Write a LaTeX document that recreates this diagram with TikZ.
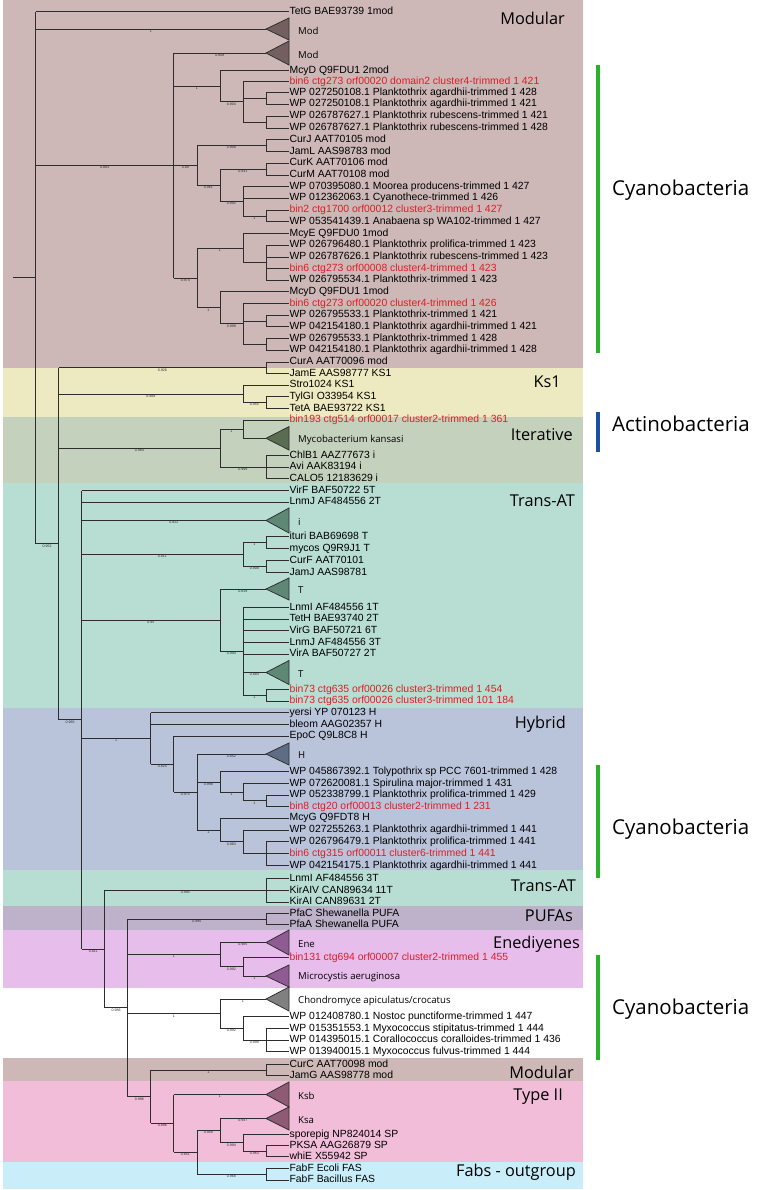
\documentclass[tikz,border=0pt]{standalone}
\usepackage{fontspec}
\setmainfont{Liberation Sans}
\newfontfamily\osans{Open Sans}
\usetikzlibrary{calc}
\definecolor{cMod}{RGB}{205,183,183}
\definecolor{cKs}{RGB}{237,233,192}
\definecolor{cIt}{RGB}{196,209,189}
\definecolor{cTr}{RGB}{184,221,210}
\definecolor{cHy}{RGB}{185,196,219}
\definecolor{cPu}{RGB}{189,178,201}
\definecolor{cEn}{RGB}{231,189,236}
\definecolor{cTy}{RGB}{242,189,217}
\definecolor{cFa}{RGB}{201,238,249}
\definecolor{cRed}{RGB}{226,28,36}
\definecolor{cGreen}{RGB}{40,178,40}
\definecolor{cBlue}{RGB}{30,80,160}
\definecolor{cLine}{RGB}{45,45,45}
\definecolor{tMod}{RGB}{115,95,95}
\definecolor{tIt}{RGB}{90,108,82}
\definecolor{tTr}{RGB}{94,135,118}
\definecolor{tHy}{RGB}{94,108,132}
\definecolor{tEn}{RGB}{142,92,146}
\definecolor{tGr}{RGB}{128,128,128}
\definecolor{tTy}{RGB}{143,90,116}
\tikzset{
 brn/.style={draw=cLine, line width=0.75pt},
 leaf/.style={anchor=west, inner sep=0.6pt, outer sep=0pt, font=\fontsize{10.4}{12}\selectfont, text height=7.4pt, text depth=2pt},
 blab/.style={anchor=north, inner sep=0.2pt, yshift=-0.3pt, font=\fontsize{3.6}{4}\selectfont, text=cLine},
 trilab/.style={anchor=west, inner sep=0pt, font=\osans\fontsize{9.6}{11}\selectfont},
 reglab/.style={anchor=base east, inner sep=0pt, font=\osans\fontsize{16.3}{18}\selectfont},
 sidelab/.style={anchor=base west, inner sep=0pt, font=\osans\fontsize{20.5}{22}\selectfont},
}
\newcommand\lfb[3]{\node[leaf] (#1) at (289,-#2) {#3};}
\newcommand\lfr[3]{\node[leaf,text=cRed] (#1) at (289,-#2) {#3};}
\newcommand\tritip[5]{\coordinate (#1) at (266,-#2);
  \draw[brn,fill=#4] (#1) -- ++(23,#3) -- ++(0,-2*#3) -- cycle;
  \node[trilab] (#1l) at (298,-#2-1.5) {#5};}
\newcommand\tclade[4]{\path let \p1=(#3), \p2=(#4) in coordinate (#1) at ({35.6+23.04*#2},{(\y1+\y2)/2});
  \draw[brn] (#1|-#3) -- (#1|-#4);}
\newcommand\brl[3]{\draw[brn] (#1|-#2) -- node[blab]{#3} (#2);}
\newcommand\bnl[2]{\draw[brn] (#1|-#2) -- (#2);}
\begin{document}
\begin{tikzpicture}[x=1pt,y=1pt]
\useasboundingbox (0,0) rectangle (759,-1190);
\fill[white] (0,0) rectangle (759,-1190);
% backgrounds
\fill[cMod] (3,0) rectangle (583,-368);
\fill[cKs] (3,-368) rectangle (583,-417);
\fill[cIt] (3,-417) rectangle (583,-483);
\fill[cTr] (3,-483) rectangle (583,-707.7);
\fill[cHy] (3,-707.7) rectangle (583,-870);
\fill[cTr] (3,-870) rectangle (583,-905.7);
\fill[cPu] (3,-905.7) rectangle (583,-930);
\fill[cEn] (3,-930) rectangle (583,-987.7);
\fill[cMod] (3,-1057.7) rectangle (583,-1081);
\fill[cTy] (3,-1081) rectangle (583,-1161.7);
\fill[cFa] (3,-1161.7) rectangle (583,-1189);
% region labels
\node[reglab] (rg1) at (565,-25) {Modular};
\node[reglab] (rg2) at (561,-387.5) {Ks1};
\node[reglab] (rg3) at (573,-440) {Iterative};
\node[reglab] (rg4) at (575,-506.5) {Trans-AT};
\node[reglab] (rg5) at (566,-728.3) {Hybrid};
\node[reglab] (rg6) at (576,-891.5) {Trans-AT};
\node[reglab] (rg7) at (573,-921.7) {PUFAs};
\node[reglab] (rg8) at (580,-948.3) {Enediyenes};
\node[reglab] (rg9) at (574,-1078) {Modular};
\node[reglab] (rg10) at (563,-1100) {Type II};
\node[reglab] (rg11) at (576,-1176.6) {Fabs - outgroup};
% side bars
\fill[cGreen] (596,-65) rectangle (600,-353);
\fill[cBlue] (596,-412) rectangle (600,-452);
\fill[cGreen] (596,-765) rectangle (600,-878);
\fill[cGreen] (596,-955) rectangle (600,-1060);
\node[sidelab] (sd1) at (612,-196) {Cyanobacteria};
\node[sidelab] (sd2) at (612,-431.3) {Actinobacteria};
\node[sidelab] (sd3) at (612,-834) {Cyanobacteria};
\node[sidelab] (sd4) at (612,-1014.3) {Cyanobacteria};
% leaves
\lfb{tetg}{11.7}{TetG BAE93739 1mod}
\tritip{mod1}{29}{11}{tMod}{Mod}
\tritip{mod2}{53}{12}{tMod}{Mod}
\lfb{mcyd2}{70.7}{McyD Q9FDU1 2mod}
\lfr{bin6d}{81.5}{bin6 ctg273 orf00020 domain2 cluster4-trimmed 1 421}
\lfb{wpa1}{92.8}{WP 027250108.1 Planktothrix agardhii-trimmed 1 428}
\lfb{wpa2}{104.3}{WP 027250108.1 Planktothrix agardhii-trimmed 1 421}
\lfb{wpr1}{116.2}{WP 026787627.1 Planktothrix rubescens-trimmed 1 421}
\lfb{wpr2}{128}{WP 026787627.1 Planktothrix rubescens-trimmed 1 428}
\lfb{curj}{139.7}{CurJ AAT70105 mod}
\lfb{jaml}{151.4}{JamL AAS98783 mod}
\lfb{curk}{163.2}{CurK AAT70106 mod}
\lfb{curm}{175}{CurM AAT70108 mod}
\lfb{moor}{186.6}{WP 070395080.1 Moorea producens-trimmed 1 427}
\lfb{cyth}{198.3}{WP 012362063.1 Cyanothece-trimmed 1 426}
\lfr{bin2}{210}{bin2 ctg1700 orf00012 cluster3-trimmed 1 427}
\lfb{anab}{221.8}{WP 053541439.1 Anabaena sp WA102-trimmed 1 427}
\lfb{mcye}{233.5}{McyE Q9FDU0 1mod}
\lfb{wpp1}{245.2}{WP 026796480.1 Planktothrix prolifica-trimmed 1 423}
\lfb{wpr3}{256.9}{WP 026787626.1 Planktothrix rubescens-trimmed 1 423}
\lfr{bin6e}{268.6}{bin6 ctg273 orf00008 cluster4-trimmed 1 423}
\lfb{wpt1}{280.2}{WP 026795534.1 Planktothrix-trimmed 1 423}
\lfb{mcyd1}{291.8}{McyD Q9FDU1 1mod}
\lfr{bin6f}{303.3}{bin6 ctg273 orf00020 cluster4-trimmed 1 426}
\lfb{wpt2}{315}{WP 026795533.1 Planktothrix-trimmed 1 421}
\lfb{wpa3}{326.8}{WP 042154180.1 Planktothrix agardhii-trimmed 1 421}
\lfb{wpt3}{338.5}{WP 026795533.1 Planktothrix-trimmed 1 428}
\lfb{wpa4}{350.2}{WP 042154180.1 Planktothrix agardhii-trimmed 1 428}
\lfb{cura}{362}{CurA AAT70096 mod}
\lfb{jame}{373.5}{JamE AAS98777 KS1}
\lfb{stro}{385.2}{Stro1024 KS1}
\lfb{tylg}{396.8}{TylGI O33954 KS1}
\lfb{teta}{408.4}{TetA BAE93722 KS1}
\lfr{bin193}{420}{bin193 ctg514 orf00017 cluster2-trimmed 1 361}
\tritip{myco}{438.3}{11.7}{tIt}{Mycobacterium kansasi}
\lfb{chlb}{455.3}{ChlB1 AAZ77673 i}
\lfb{avi}{467}{Avi AAK83194 i}
\lfb{calo}{478.6}{CALO5 12183629 i}
\lfb{virf}{490.5}{VirF BAF50722 5T}
\lfb{lnmj2}{502.2}{LnmJ AF484556 2T}
\tritip{trii}{520.5}{12.5}{tTr}{i}
\lfb{ituri}{536.8}{ituri BAB69698 T}
\lfb{mycos}{548.4}{mycos Q9R9J1 T}
\lfb{curf}{560.6}{CurF AAT70101}
\lfb{jamj}{572.4}{JamJ AAS98781}
\tritip{trit1}{589}{11}{tTr}{T}
\lfb{lnmi1}{607.3}{LnmI AF484556 1T}
\lfb{teth}{619.2}{TetH BAE93740 2T}
\lfb{virg}{630.8}{VirG BAF50721 6T}
\lfb{lnmj3}{642.4}{LnmJ AF484556 3T}
\lfb{vira}{654}{VirA BAF50727 2T}
\tritip{trit2}{672.5}{12}{tTr}{T}
\lfr{bin73a}{689.5}{bin73 ctg635 orf00026 cluster3-trimmed 1 454}
\lfr{bin73b}{701.2}{bin73 ctg635 orf00026 cluster3-trimmed 101 184}
\lfb{yersi}{712.8}{yersi YP 070123 H}
\lfb{bleom}{724.4}{bleom AAG02357 H}
\lfb{epoc}{736}{EpoC Q9L8C8 H}
\tritip{trih}{754}{11}{tHy}{H}
\lfb{toly}{771.7}{WP 045867392.1 Tolypothrix sp PCC 7601-trimmed 1 428}
\lfb{spir}{783.3}{WP 072620081.1 Spirulina major-trimmed 1 431}
\lfb{wpp2}{795}{WP 052338799.1 Planktothrix prolifica-trimmed 1 429}
\lfr{bin8}{806.6}{bin8 ctg20 orf00013 cluster2-trimmed 1 231}
\lfb{mcyg}{818.2}{McyG Q9FDT8 H}
\lfb{wpa5}{829.9}{WP 027255263.1 Planktothrix agardhii-trimmed 1 441}
\lfb{wpp3}{841.5}{WP 026796479.1 Planktothrix prolifica-trimmed 1 441}
\lfr{bin6g}{853.3}{bin6 ctg315 orf00011 cluster6-trimmed 1 441}
\lfb{wpa6}{865.5}{WP 042154175.1 Planktothrix agardhii-trimmed 1 441}
\lfb{lnmi3}{878.5}{LnmI AF484556 3T}
\lfb{kir4}{890.4}{KirAIV CAN89634 11T}
\lfb{kir1}{902}{KirAI CAN89631 2T}
\lfb{pfac}{913.4}{PfaC Shewanella PUFA}
\lfb{pfaa}{924.5}{PfaA Shewanella PUFA}
\tritip{ene}{942.5}{12.5}{tEn}{Ene}
\lfr{bin131}{957.5}{bin131 ctg694 orf00007 cluster2-trimmed 1 455}
\tritip{micro}{976}{11}{tEn}{Microcystis aeruginosa}
\tritip{chon}{999}{12}{tGr}{Chondromyce apiculatus/crocatus}
\lfb{nost}{1016.7}{WP 012408780.1 Nostoc punctiforme-trimmed 1 447}
\lfb{myx1}{1028.3}{WP 015351553.1 Myxococcus stipitatus-trimmed 1 444}
\lfb{cora}{1040}{WP 014395015.1 Corallococcus coralloides-trimmed 1 436}
\lfb{myx2}{1051.6}{WP 013940015.1 Myxococcus fulvus-trimmed 1 444}
\lfb{curc}{1064.6}{CurC AAT70098 mod}
\lfb{jamg}{1075.6}{JamG AAS98778 mod}
\tritip{ksb}{1094.5}{12.5}{tTy}{Ksb}
\tritip{ksa}{1118.5}{11.5}{tTy}{Ksa}
\lfb{spor}{1134.3}{sporepig NP824014 SP}
\lfb{pksa}{1145.5}{PKSA AAG26879 SP}
\lfb{whie}{1156.6}{whiE X55942 SP}
\lfb{fabe}{1168.3}{FabF Ecoli FAS}
\lfb{fabb}{1180}{FabF Bacillus FAS}
% clades: Modular
\tclade{a1a1}{10}{wpa1}{wpa2}\bnl{a1a1}{wpa1}\bnl{a1a1}{wpa2}
\tclade{a1a2}{10}{wpr1}{wpr2}\bnl{a1a2}{wpr1}\bnl{a1a2}{wpr2}
\tclade{a1a}{9}{bin6d}{a1a2}\bnl{a1a}{bin6d}\bnl{a1a}{a1a1}\bnl{a1a}{a1a2}
\tclade{a1}{8}{mcyd2}{a1a}\bnl{a1}{mcyd2}\brl{a1}{a1a}{0.904}
\tclade{a2a}{10}{curj}{jaml}\bnl{a2a}{curj}\bnl{a2a}{jaml}
\tclade{a2b1}{10}{curk}{curm}\bnl{a2b1}{curk}\bnl{a2b1}{curm}
\tclade{a2b2c}{10}{bin2}{anab}\bnl{a2b2c}{bin2}\bnl{a2b2c}{anab}
\tclade{a2b2}{9}{moor}{a2b2c}\bnl{a2b2}{moor}\bnl{a2b2}{cyth}\brl{a2b2}{a2b2c}{1}
\tclade{a2b}{8}{a2b1}{a2b2}\brl{a2b}{a2b1}{0.931}\brl{a2b}{a2b2}{0.992}
\tclade{a2}{7}{a2a}{a2b}\brl{a2}{a2a}{0.908}\brl{a2}{a2b}{0.961}
\tclade{a3a1}{10}{wpp1}{wpt1}\bnl{a3a1}{wpp1}\bnl{a3a1}{wpr3}\bnl{a3a1}{bin6e}\bnl{a3a1}{wpt1}
\tclade{a3a}{9}{mcye}{a3a1}\bnl{a3a}{mcye}\bnl{a3a}{a3a1}
\tclade{a3b1a}{10}{wpt2}{wpa3}\bnl{a3b1a}{wpt2}\bnl{a3b1a}{wpa3}
\tclade{a3b1b}{10}{wpt3}{wpa4}\bnl{a3b1b}{wpt3}\bnl{a3b1b}{wpa4}
\tclade{a3b1}{9}{bin6f}{a3b1b}\bnl{a3b1}{bin6f}\bnl{a3b1}{a3b1a}\bnl{a3b1}{a3b1b}
\tclade{a3b}{8}{mcyd1}{a3b1}\bnl{a3b}{mcyd1}\brl{a3b}{a3b1}{0.999}
\tclade{a3}{7}{a3a}{a3b}\brl{a3}{a3a}{1}\brl{a3}{a3b}{1}
\tclade{aa}{6}{mod2}{a3}\brl{aa}{mod2}{0.808}\brl{aa}{a1}{1}\brl{aa}{a2}{0.89}\brl{aa}{a3}{0.974}
% Ks1 / Iterative
\tclade{b1}{10}{cura}{jame}\bnl{b1}{cura}\bnl{b1}{jame}
\tclade{b2a}{10}{tylg}{teta}\bnl{b2a}{tylg}\bnl{b2a}{teta}
\tclade{b2}{9}{stro}{b2a}\bnl{b2}{stro}\brl{b2}{b2a}{0.955}
\tclade{b3a}{9}{bin193}{myco}\bnl{b3a}{bin193}\bnl{b3a}{myco}
\tclade{b3b}{10}{chlb}{calo}\bnl{b3b}{chlb}\bnl{b3b}{avi}\bnl{b3b}{calo}
\tclade{b3}{8}{b3a}{b3b}\brl{b3}{b3a}{1}\brl{b3}{b3b}{0.999}
% Trans-AT
\tclade{c1a}{10}{ituri}{mycos}\bnl{c1a}{ituri}\bnl{c1a}{mycos}
\tclade{c1b}{10}{curf}{jamj}\bnl{c1b}{curf}\bnl{c1b}{jamj}
\tclade{c1}{9}{c1a}{c1b}\brl{c1}{c1a}{1}\brl{c1}{c1b}{0.908}
\tclade{c2c}{10}{bin73a}{bin73b}\bnl{c2c}{bin73a}\bnl{c2c}{bin73b}
\tclade{c2b}{9}{lnmi1}{c2c}\bnl{c2b}{lnmi1}\bnl{c2b}{teth}\bnl{c2b}{virg}\bnl{c2b}{lnmj3}\bnl{c2b}{vira}\brl{c2b}{trit2}{0.884}\brl{c2b}{c2c}{1}
\tclade{c2}{8}{trit1}{c2b}\brl{c2}{trit1}{0.839}\brl{c2}{c2b}{0.994}
% Hybrid
\tclade{c3c2}{10}{wpp2}{bin8}\bnl{c3c2}{wpp2}\bnl{c3c2}{bin8}
\tclade{c3c1}{9}{spir}{c3c2}\bnl{c3c1}{spir}\brl{c3c1}{c3c2}{1}
\tclade{c3c}{8}{toly}{c3c1}\bnl{c3c}{toly}\brl{c3c}{c3c1}{1}
\tclade{c3d1a}{10}{wpp3}{wpa6}\bnl{c3d1a}{wpp3}\bnl{c3d1a}{bin6g}\bnl{c3d1a}{wpa6}
\tclade{c3d1}{9}{wpa5}{c3d1a}\bnl{c3d1}{wpa5}\bnl{c3d1}{c3d1a}
\tclade{c3d}{8}{mcyg}{c3d1}\bnl{c3d}{mcyg}\brl{c3d}{c3d1}{0.983}
\tclade{c3b}{7}{trih}{c3d}\brl{c3b}{trih}{0.852}\brl{c3b}{c3c}{0.998}\brl{c3b}{c3d}{1}
\tclade{c3a}{6}{epoc}{c3b}\bnl{c3a}{epoc}\brl{c3a}{c3b}{0.975}
\tclade{c3}{5}{yersi}{c3a}\bnl{c3}{yersi}\bnl{c3}{bleom}\brl{c3}{c3a}{0.825}
% lower part
\tclade{c4a}{10}{lnmi3}{kir1}\bnl{c4a}{lnmi3}\bnl{c4a}{kir4}\bnl{c4a}{kir1}
\tclade{pp}{10}{pfac}{pfaa}\bnl{pp}{pfac}\bnl{pp}{pfaa}
\tclade{e2}{9}{bin131}{micro}\bnl{e2}{bin131}\brl{e2}{micro}{1}
\tclade{ee}{8}{ene}{e2}\brl{ee}{ene}{0.985}\brl{ee}{e2}{0.992}
\tclade{ch3}{10}{myx1}{myx2}\bnl{ch3}{myx1}\bnl{ch3}{cora}\bnl{ch3}{myx2}
\tclade{ch2}{9}{nost}{ch3}\bnl{ch2}{nost}\brl{ch2}{ch3}{0.999}
\tclade{ch}{8}{chon}{ch2}\brl{ch}{chon}{1}\brl{ch}{ch2}{0.992}
\tclade{d1}{10}{curc}{jamg}\bnl{d1}{curc}\bnl{d1}{jamg}
\tclade{ty5}{10}{pksa}{whie}\bnl{ty5}{pksa}\bnl{ty5}{whie}
\tclade{ty4}{9}{spor}{ty5}\bnl{ty4}{spor}\brl{ty4}{ty5}{0.963}
\tclade{ty3}{8}{ksa}{ty4}\brl{ty3}{ksa}{0.947}\brl{ty3}{ty4}{0.994}
\tclade{ff}{10}{fabe}{fabb}\bnl{ff}{fabe}\bnl{ff}{fabb}
\tclade{ty2}{7}{ty3}{ff}\brl{ty2}{ty3}{0.909}\brl{ty2}{ff}{0.968}
\tclade{ty}{6}{ksb}{ty2}\brl{ty}{ksb}{1}\brl{ty}{ty2}{0.851}
\tclade{dd}{5}{d1}{ty}\brl{dd}{d1}{1}\brl{dd}{ty}{0.896}
\tclade{c4b}{4}{pp}{dd}\brl{c4b}{pp}{0.995}\brl{c4b}{ee}{1}\brl{c4b}{ch}{1}\brl{c4b}{dd}{0.996}
\tclade{c4}{3}{c4a}{c4b}\brl{c4}{c4a}{0.995}\brl{c4}{c4b}{0.986}
\tclade{b4}{2}{virf}{c4}\bnl{b4}{virf}\bnl{b4}{lnmj2}\brl{b4}{trii}{0.822}\brl{b4}{c1}{0.811}\brl{b4}{c2}{0.95}\brl{b4}{c3}{1}\brl{b4}{c4}{0.811}
\tclade{bb}{1}{b1}{b4}\brl{bb}{b1}{0.926}\brl{bb}{b2}{0.989}\brl{bb}{b3}{0.984}\brl{bb}{b4}{0.985}
\tclade{root}{0}{tetg}{bb}\bnl{root}{tetg}\brl{root}{mod1}{1}\brl{root}{aa}{0.883}\brl{root}{bb}{0.952}
\coordinate (rstub) at (13,0);
\draw[brn] (rstub|-root) -- (root);
\end{tikzpicture}
\end{document}
